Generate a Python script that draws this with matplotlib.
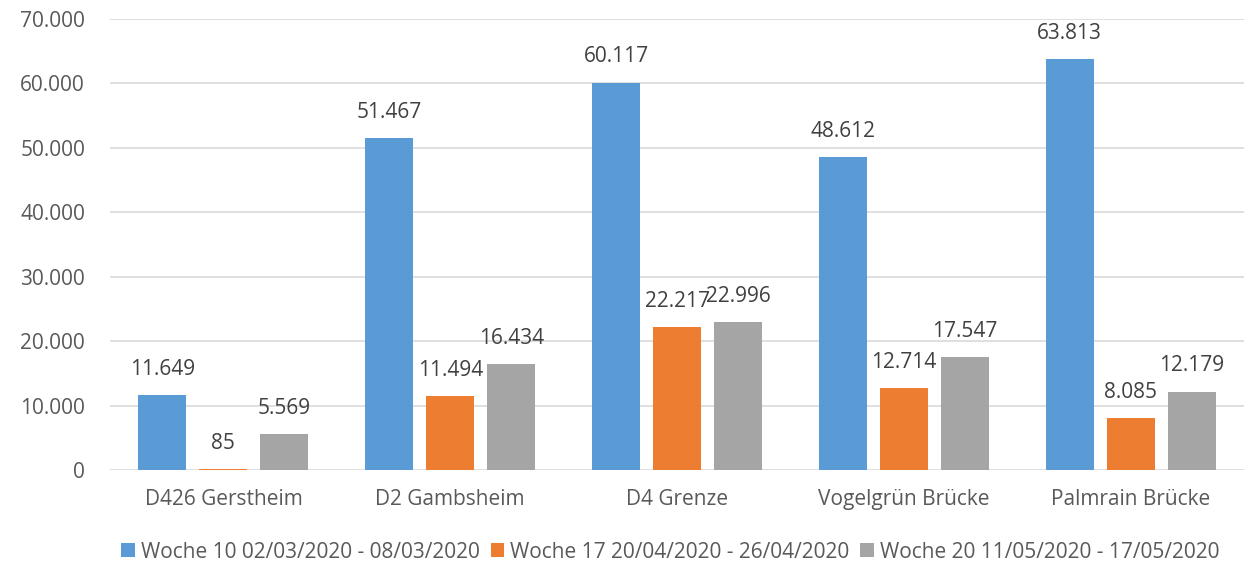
import numpy as np
import matplotlib.pyplot as plt
from matplotlib.ticker import FuncFormatter

plt.rcParams['font.family'] = ['Open Sans', 'DejaVu Sans']

# Daten
stellen = ["D426 Gerstheim", "D2 Gambsheim", "D4 Grenze", "Vogelgrün Brücke", "Palmrain Brücke"]
woche10 = [11649, 51467, 60117, 48612, 63813]
woche17 = [85, 11494, 22217, 12714, 8085]
woche20 = [5569, 16434, 22996, 17547, 12179]
serien = ["Woche 10 02/03/2020 - 08/03/2020",
          "Woche 17 20/04/2020 - 26/04/2020",
          "Woche 20 11/05/2020 - 17/05/2020"]
farben = ["#5B9BD5", "#ED7D31", "#A5A5A5"]

def fmt(v):
    return f"{v:,.0f}".replace(",", ".")

fig = plt.figure(figsize=(12.53, 5.67), dpi=100)
ax = fig.add_axes([110 / 1253, 1 - 470 / 567, 1134 / 1253, 451 / 567])

x = np.arange(len(stellen))
breite = 0.211
abstand = 0.269
fs = 15

for i, (werte, name, farbe) in enumerate(zip([woche10, woche17, woche20], serien, farben)):
    pos = x + (i - 1) * abstand
    bars = ax.bar(pos, werte, breite, color=farbe, label=name, zorder=3)
    for b, v in zip(bars, werte):
        ax.annotate(fmt(v), (b.get_x() + b.get_width() / 2, v),
                    xytext=(0, 11), textcoords="offset points",
                    ha="center", va="bottom", fontsize=fs, color="#404040")

ax.set_xlim(-0.5, 4.5)
ax.set_ylim(0, 70000)
ax.set_yticks(range(0, 70001, 10000))
ax.yaxis.set_major_formatter(FuncFormatter(lambda v, p: fmt(v)))
ax.set_xticks(x)
ax.set_xticklabels(stellen)
ax.tick_params(axis="both", length=0, labelsize=fs, labelcolor="#595959")
ax.tick_params(axis="x", pad=14)
ax.tick_params(axis="y", pad=18)
ax.grid(axis="y", color="#D9D9D9", linewidth=1.2, zorder=0)
for s in ax.spines.values():
    s.set_visible(False)

fig.legend(loc="center", bbox_to_anchor=(0.535, 1 - 552 / 567), ncol=3, frameon=False,
           fontsize=fs, handlelength=0.65, handleheight=0.65, handletextpad=0.3,
           columnspacing=0.5, labelcolor="#595959")

fig.savefig("out.png", dpi=100)
